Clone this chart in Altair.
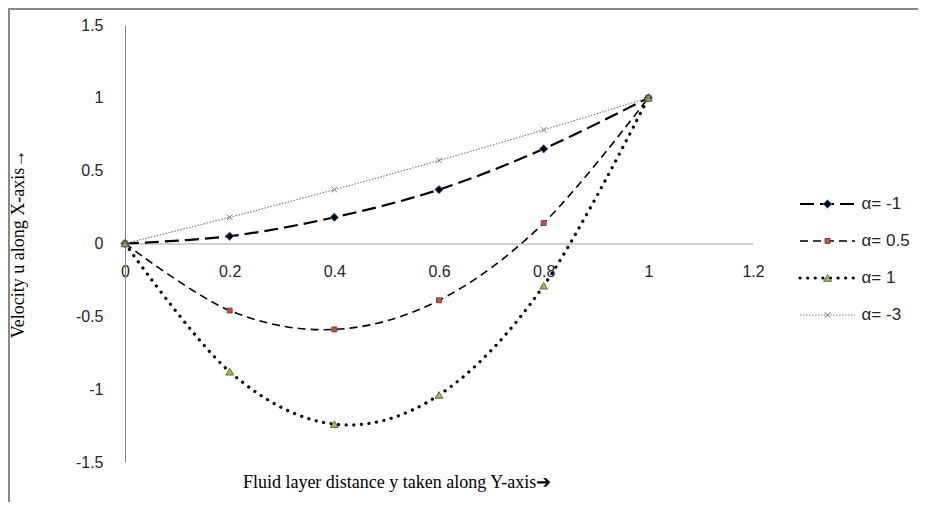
import altair as alt
import pandas as pd

# ---------------- data ----------------
x_vals = [0, 0.2, 0.4, 0.6, 0.8, 1.0]
series_names = ["α= -1", "α= 0.5", "α= 1", "α= -3"]
u_alpha_m1 = [0, 0.05, 0.18, 0.37, 0.65, 1.0]
u_alpha_05 = [0, -0.46, -0.59, -0.39, 0.14, 1.0]
u_alpha_1 = [0, -0.88, -1.24, -1.04, -0.29, 1.0]
u_alpha_m3 = [0, 0.18, 0.37, 0.57, 0.78, 1.0]
u_values = [u_alpha_m1, u_alpha_05, u_alpha_1, u_alpha_m3]
x_ticks = [0, 0.2, 0.4, 0.6, 0.8, 1.0, 1.2]
y_ticks = [-1.5, -1.0, -0.5, 0, 0.5, 1.0, 1.5]
x_title = ["Fluid layer distance y taken along Y-axis➔"]
y_title = "Velocity u along X-axis→"

# ---------------- styles ----------------
W, H = 628, 437
LABEL_FONT = "Liberation Sans"
SERIF = "Liberation Serif"
TXT = "#262626"

styles = [
    dict(line=dict(stroke="black", strokeWidth=2.2, strokeDash=[14, 6]),
         pt=dict(shape="diamond", size=70, fill="black", stroke="#4f81bd", strokeWidth=1, filled=True)),
    dict(line=dict(stroke="black", strokeWidth=1.6, strokeDash=[8, 5]),
         pt=dict(shape="square", size=25, fill="#c0504d", stroke="#7a2a28", strokeWidth=0.8, filled=True)),
    dict(line=dict(stroke="black", strokeWidth=3.2, strokeDash=[0.1, 7.5], strokeCap="round"),
         pt=dict(shape="triangle-up", size=60, fill="#9bbb59", stroke="#3d5a1a", strokeWidth=0.8, filled=True)),
    dict(line=dict(stroke="#777777", strokeWidth=1.1, strokeDash=[1.5, 1.5]),
         pt=dict(shape="M-1,-1L1,1M-1,1L1,-1", size=30, stroke="#777777", strokeWidth=1, filled=False)),
]

xs = alt.Scale(domain=[0, 1.2], nice=False, zero=False)
ys = alt.Scale(domain=[-1.5, 1.5], nice=False, zero=False)

x_axis = alt.Axis(values=x_ticks, title="", offset=-H / 2, ticks=False, grid=False,
                  domainColor="#a6a6a6", domainWidth=1.2, labelFont=LABEL_FONT, labelFontSize=16,
                  labelColor=TXT, labelPadding=20, labelExpr="toString(datum.value)",
                  labelFlush=False, labelOverlap=False)
y_axis = alt.Axis(values=y_ticks, title=y_title, ticks=False, grid=False,
                  domainColor="#868686", domainWidth=1, labelFont=LABEL_FONT, labelFontSize=16,
                  labelColor=TXT, labelPadding=22, labelExpr="toString(datum.value)",
                  labelFlush=False, labelOverlap=False,
                  titleFont=SERIF, titleFontSize=18, titleFontWeight="normal", titleColor="black",
                  titleAngle=270, titleX=-107, titleY=H / 2, titleBaseline="middle", titleAlign="center")

main_layers = []
# chart-area frame (top and left edges visible in the reference)
frame_top = alt.Chart(alt.Data(values=[{}])).mark_rule(stroke="#888888", strokeWidth=2).encode(
    x=alt.value(-117), x2=alt.value(W + 300), y=alt.value(-16))
frame_left = alt.Chart(alt.Data(values=[{}])).mark_rule(stroke="#888888", strokeWidth=2).encode(
    x=alt.value(-116), y=alt.value(-17), y2=alt.value(H + 200))
main_layers += [frame_top, frame_left]

for i, name in enumerate(series_names):
    df = pd.DataFrame({"x": x_vals, "u": u_values[i], "s": name})
    st = styles[i]
    base = alt.Chart(df).encode(
        x=alt.X("x:Q", scale=xs, axis=x_axis),
        y=alt.Y("u:Q", scale=ys, axis=y_axis),
    )
    main_layers.append(base.mark_line(interpolate="cardinal", **st["line"]))
    main_layers.append(base.mark_point(opacity=1, **st["pt"]))

# x-axis title (placed below the plot as in the reference)
xt = alt.Chart(pd.DataFrame({"t": x_title})).mark_text(
    font=SERIF, fontSize=18, color="black", align="center", baseline="middle"
).encode(x=alt.value(W / 2 - 42), y=alt.value(H + 21), text="t:N")
main_layers.append(xt)

main = alt.layer(*main_layers)

# ---------------- legend (drawn through its own scales) ----------------
lx = alt.Scale(domain=[0, 1], range=[675, 730], nice=False, zero=False)
ly = alt.Scale(domain=series_names, range=[179, 290], padding=0)
legend_layers = []
for i, name in enumerate(series_names):
    st = styles[i]
    ldf = pd.DataFrame({"t": [0, 1], "s": [name, name]})
    mdf = pd.DataFrame({"t": [0.5], "s": [name]})
    lb = alt.Chart(ldf).encode(x=alt.X("t:Q", scale=lx, axis=None),
                               y=alt.Y("s:N", scale=ly, axis=None))
    mb = alt.Chart(mdf).encode(x=alt.X("t:Q", scale=lx, axis=None),
                               y=alt.Y("s:N", scale=ly, axis=None))
    legend_layers.append(lb.mark_line(**st["line"]))
    legend_layers.append(mb.mark_point(opacity=1, **st["pt"]))
    legend_layers.append(mb.mark_text(align="left", baseline="middle", dx=34, font=LABEL_FONT,
                                      fontSize=17, color=TXT).encode(text="s:N"))
legend = alt.layer(*legend_layers)

chart = alt.layer(main, legend).resolve_scale(x="independent", y="independent").properties(
    width=W, height=H,
    autosize=alt.AutoSizeParams(type="none"),
    padding={"left": 117, "top": 17, "right": 165, "bottom": 40},
).configure_view(stroke=None)

chart.save("out.html", embed_options={"renderer": "svg", "actions": False})
